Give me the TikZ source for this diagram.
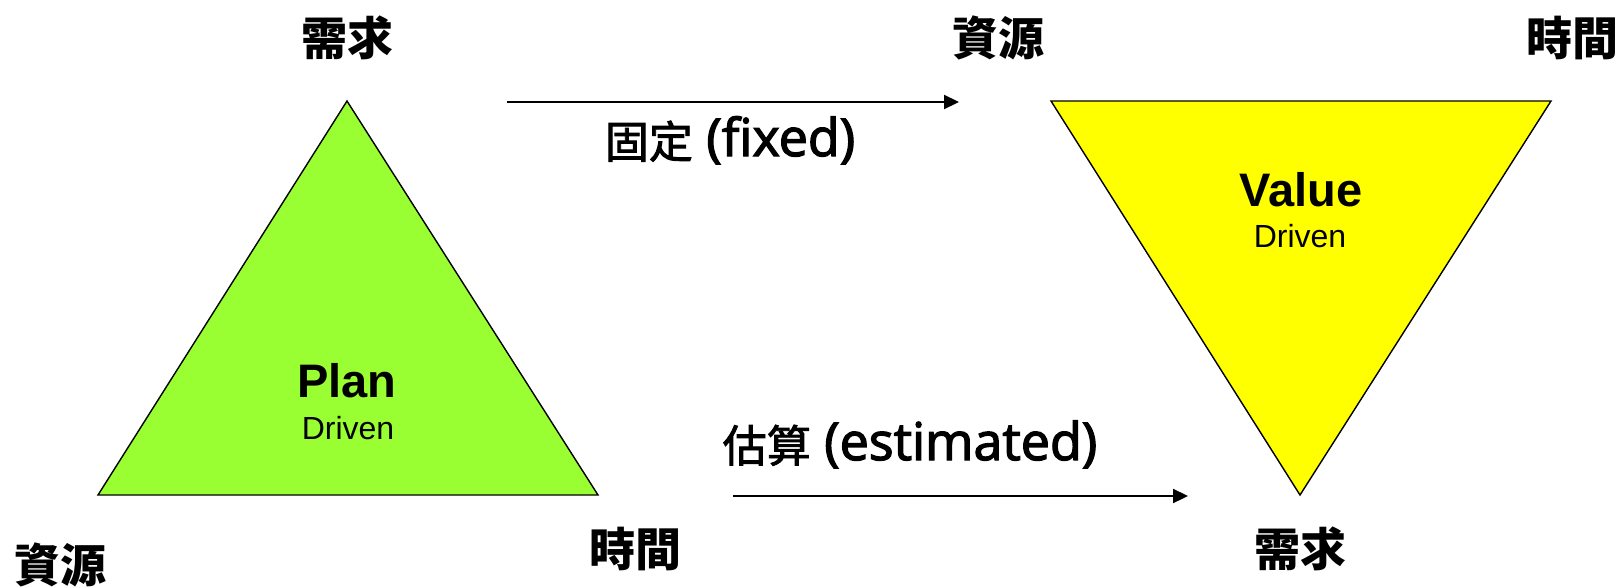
\documentclass[tikz,border=0pt]{standalone}
\usepackage{fontspec}
\setmainfont{Liberation Sans}
\newfontfamily\cjk{Noto Sans CJK TC}
\newfontfamily\cjklab{Noto Sans CJK TC}[FakeBold=2]
\newfontfamily\latin{Open Sans}[FakeBold=2.5]
\usetikzlibrary{arrows.meta}
\definecolor{plangreen}{HTML}{99FF33}
\definecolor{valueyellow}{HTML}{FFFF00}
\tikzset{
  tri/.style={draw=black, line width=1.4pt, line join=miter},
  corner/.style={inner sep=0pt, font=\cjk\bfseries\fontsize{46}{50}\selectfont},
  title/.style={inner sep=0pt, font=\bfseries\fontsize{47}{50}\selectfont},
  sub/.style={inner sep=0pt, font=\fontsize{32}{35}\selectfont},
  arrlabel/.style={inner sep=0pt, anchor=base},
  conn/.style={line width=2.2pt, -{Triangle[length=15pt,width=14pt]}}
}
\newcommand{\cjkpart}[1]{\raisebox{-2pt}{\cjklab\fontsize{44}{48}\selectfont #1}}
\newcommand{\latpart}[1]{{\latin\fontsize{52}{57}\selectfont #1}}
\begin{document}
\begin{tikzpicture}[x=1pt,y=-1pt]
\useasboundingbox (0,0) rectangle (1621,586);
% left triangle
\coordinate (LA) at (347,101);
\coordinate (LB) at (98,495);
\coordinate (LC) at (598,495);
\draw[tri, fill=plangreen] (LA) -- (LB) -- (LC) -- cycle;
% right triangle
\coordinate (RA) at (1051,101);
\coordinate (RB) at (1551,101);
\coordinate (RC) at (1300,495);
\draw[tri, fill=valueyellow] (RA) -- (RB) -- (RC) -- cycle;
% corner labels
\node[corner] (ltop) at (347,38) {需求};
\node[corner] (lbl) at (60,565) {資源};
\node[corner] (lbr) at (635,549) {時間};
\node[corner] (rtl) at (998,38) {資源};
\node[corner] (rtr) at (1572,38) {時間};
\node[corner] (rbot) at (1300,549) {需求};
% inner labels
\node[title] (plan) at (347,381) {Plan};
\node[sub] (pdriven) at (348,428) {Driven};
\node[title] (value) at (1301,190) {Value};
\node[sub] (vdriven) at (1300,236) {Driven};
% arrows
\coordinate (f1) at (507,102);
\coordinate (f2) at (959,102);
\draw[conn] (f1) -- (f2);
\node[arrlabel] (fixed) at (730,156) {\cjkpart{固定}\latpart{ (fixed)}};
\coordinate (e1) at (733,496);
\coordinate (e2) at (1188,496);
\draw[conn] (e1) -- (e2);
\node[arrlabel] (est) at (910,460) {\cjkpart{估算}\latpart{ (estimated)}};
\end{tikzpicture}
\end{document}
